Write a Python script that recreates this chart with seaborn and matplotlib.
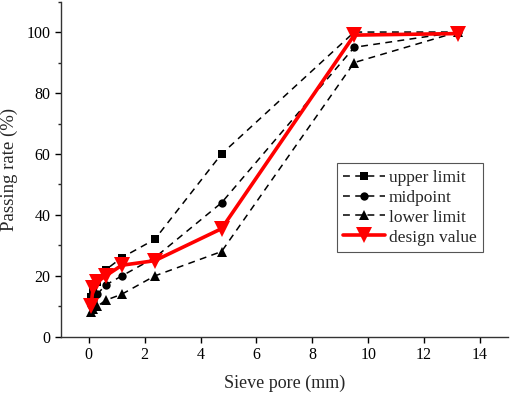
import numpy as np
import pandas as pd
import seaborn as sns
import matplotlib
matplotlib.use("Agg")
import matplotlib.pyplot as plt
from matplotlib.ticker import MultipleLocator

sieve = [0.075, 0.15, 0.3, 0.6, 1.18, 2.36, 4.75, 9.5, 13.2]
upper = [13, 15, 18, 22, 26, 32, 60, 100, 100]
lower = [8, 9, 10, 12, 14, 20, 28, 90, 100]
midpoint = [10.5, 12, 14, 17, 20, 26, 44, 95, 100]
design = [10, 16, 18, 20, 23.5, 25, 35.5, 99, 99.5]

sns.set_style("ticks")
plt.rcParams['font.family'] = ['Liberation Serif', 'DejaVu Serif']
plt.rcParams['mathtext.fontset'] = 'stix'

fig = plt.figure(figsize=(5.12, 3.94), dpi=100)
ax = fig.add_axes([0.119, 0.145, 0.873, 0.851])

sns.lineplot(x=sieve, y=upper, ax=ax, color='black', linestyle=(0, (4.5, 3.5)), lw=1.1,
             marker='s', markersize=5.5, markeredgewidth=0, label='upper limit')
sns.lineplot(x=sieve, y=midpoint, ax=ax, color='black', linestyle=(0, (4.5, 3.5)), lw=1.1,
             marker='o', markersize=6, markeredgewidth=0, label='midpoint')
sns.lineplot(x=sieve, y=lower, ax=ax, color='black', linestyle=(0, (4.5, 3.5)), lw=1.1,
             marker='^', markersize=6.5, markeredgewidth=0, label='lower limit')
sns.lineplot(x=sieve, y=design, ax=ax, color='#ff0000', lw=2.6,
             marker='v', markersize=11, markeredgewidth=0, label='design value')

ax.set_xlim(-1, 15)
ax.set_ylim(0, 110)
ax.xaxis.set_major_locator(MultipleLocator(2))
ax.yaxis.set_major_locator(MultipleLocator(20))
ax.yaxis.set_minor_locator(MultipleLocator(10))
ax.tick_params(axis='both', which='major', direction='out', length=4, width=1, labelsize=11.5, colors='black')
ax.tick_params(axis='y', which='minor', direction='out', length=2.5, width=1)
for s in ['top', 'right']:
    ax.spines[s].set_visible(False)
for s in ['left', 'bottom']:
    ax.spines[s].set_color('#333333')
    ax.spines[s].set_linewidth(1)

ax.set_xlabel('Sieve pore (mm)', fontsize=13, labelpad=8)
ax.set_ylabel('Passing rate (%)', fontsize=13.5, labelpad=6)

leg = ax.legend(loc='upper right', bbox_to_anchor=(0.945, 0.52), fontsize=12.5,
                frameon=True, fancybox=False, edgecolor='#555555', framealpha=1,
                handlelength=2.4, handletextpad=0.2, borderpad=0.4, labelspacing=0.22,
                borderaxespad=0)
leg.get_frame().set_linewidth(0.8)

fig.savefig('out.png', dpi=100)
